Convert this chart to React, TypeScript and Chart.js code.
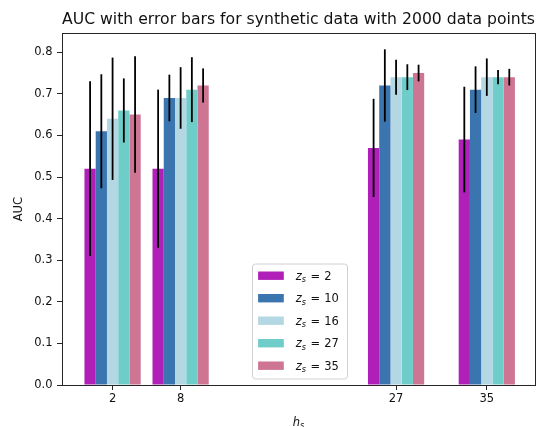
import React, { useEffect, useRef } from "react";
import { Chart, registerables } from "chart.js";

Chart.register(...registerables);

const TITLE = "AUC with error bars for synthetic data with 2000 data points";
const H_VALUES = [2, 8, 27, 35];
const Z_LABELS = ["2", "10", "16", "27", "35"];

const AUC_Z2 = [0.52, 0.52, 0.57, 0.59];
const AUC_Z10 = [0.61, 0.69, 0.72, 0.71];
const AUC_Z16 = [0.64, 0.69, 0.74, 0.74];
const AUC_Z27 = [0.66, 0.71, 0.74, 0.74];
const AUC_Z35 = [0.65, 0.72, 0.75, 0.74];

const ERR_Z2 = [0.21, 0.19, 0.118, 0.127];
const ERR_Z10 = [0.137, 0.056, 0.087, 0.056];
const ERR_Z16 = [0.147, 0.074, 0.042, 0.045];
const ERR_Z27 = [0.077, 0.078, 0.031, 0.017];
const ERR_Z35 = [0.14, 0.041, 0.02, 0.02];

const Y_TICKS = [0, 0.1, 0.2, 0.3, 0.4, 0.5, 0.6, 0.7, 0.8];

const COLORS = ["#b020b8", "#3a75af", "#b4d7e4", "#6fcdc9", "#cd7592"];

const FONT = '"DejaVu Sans", sans-serif';

const errorBarPlugin = {
  id: "errorBars",
  afterDatasetsDraw(chart: any) {
    const ctx = chart.ctx;
    const yScale = chart.scales.y;
    ctx.save();
    ctx.strokeStyle = "#000";
    ctx.lineWidth = 1.8;
    chart.data.datasets.forEach((ds: any, i: number) => {
      const meta = chart.getDatasetMeta(i);
      meta.data.forEach((el: any, j: number) => {
        const v = ds.data[j].y;
        const e = ds.errors[j];
        const y1 = yScale.getPixelForValue(v + e);
        const y2 = yScale.getPixelForValue(v - e);
        ctx.beginPath();
        ctx.moveTo(el.x, y1);
        ctx.lineTo(el.x, y2);
        ctx.stroke();
      });
    });
    ctx.restore();
  },
};

const framePlugin = {
  id: "frame",
  afterDraw(chart: any) {
    const { ctx, chartArea } = chart;
    ctx.save();
    ctx.strokeStyle = "#262626";
    ctx.lineWidth = 1;
    ctx.strokeRect(
      Math.round(chartArea.left) + 0.5,
      Math.round(chartArea.top) + 0.5,
      Math.round(chartArea.right - chartArea.left),
      Math.round(chartArea.bottom - chartArea.top)
    );
    ctx.restore();
  },
};

function drawSubLabel(ctx: any, main: string, sub: string, rest: string, x: number, baseline: number, size: number) {
  ctx.font = `italic ${size}px ${FONT}`;
  ctx.textAlign = "left";
  ctx.textBaseline = "alphabetic";
  ctx.fillText(main, x, baseline);
  let cx = x + ctx.measureText(main).width;
  const subSize = size * 0.7;
  ctx.font = `italic ${subSize}px ${FONT}`;
  ctx.fillText(sub, cx, baseline + size * 0.2);
  cx += ctx.measureText(sub).width;
  if (rest) {
    ctx.font = `${size}px ${FONT}`;
    cx += size * 0.38;
    ctx.fillText("=", cx, baseline);
    cx += ctx.measureText("=").width + size * 0.36;
    ctx.fillText(rest, cx, baseline);
  }
}

const annotationPlugin = {
  id: "annotations",
  afterDraw(chart: any) {
    const { ctx, chartArea } = chart;
    const cxMid = (chartArea.left + chartArea.right) / 2;
    ctx.save();
    ctx.fillStyle = "#111";

    // x-axis label h_s
    const size = 11.5;
    ctx.font = `italic ${size}px ${FONT}`;
    const wh = ctx.measureText("h").width;
    ctx.font = `italic ${size * 0.7}px ${FONT}`;
    const ws = ctx.measureText("s").width;
    drawSubLabel(ctx, "h", "s", "", cxMid - (wh + ws) / 2, 425.5, size);

    // legend
    const boxW = 95;
    const boxH = 115;
    const boxL = cxMid - boxW / 2 + 1.5;
    const boxB = chartArea.bottom - 6;
    const boxT = boxB - boxH;
    ctx.beginPath();
    const r = 3;
    ctx.moveTo(boxL + r, boxT);
    ctx.lineTo(boxL + boxW - r, boxT);
    ctx.arcTo(boxL + boxW, boxT, boxL + boxW, boxT + r, r);
    ctx.lineTo(boxL + boxW, boxB - r);
    ctx.arcTo(boxL + boxW, boxB, boxL + boxW - r, boxB, r);
    ctx.lineTo(boxL + r, boxB);
    ctx.arcTo(boxL, boxB, boxL, boxB - r, r);
    ctx.lineTo(boxL, boxT + r);
    ctx.arcTo(boxL, boxT, boxL + r, boxT, r);
    ctx.closePath();
    ctx.fillStyle = "rgba(255,255,255,0.8)";
    ctx.fill();
    ctx.strokeStyle = "#d0d0d0";
    ctx.lineWidth = 1;
    ctx.stroke();

    Z_LABELS.forEach((lab, i) => {
      const rowC = boxT + 11.7 + i * 22.5;
      ctx.fillStyle = COLORS[i];
      ctx.fillRect(boxL + 5.6, rowC - 4.2, 25.7, 8.4);
      ctx.fillStyle = "#111";
      drawSubLabel(ctx, "z", "s", lab, boxL + 43.3, rowC + 4.2, 11.5);
    });
    ctx.restore();
  },
};

export default function App() {
  const canvasRef = useRef<HTMLCanvasElement | null>(null);

  useEffect(() => {
    if (!canvasRef.current) return;
    const aucs = [AUC_Z2, AUC_Z10, AUC_Z16, AUC_Z27, AUC_Z35];
    const errs = [ERR_Z2, ERR_Z10, ERR_Z16, ERR_Z27, ERR_Z35];
    const datasets = Z_LABELS.map((lab, i) => ({
      label: `z_s = ${lab}`,
      data: H_VALUES.map((h, j) => ({ x: h, y: aucs[i][j] })),
      errors: errs[i],
      backgroundColor: COLORS[i],
      borderWidth: 0,
      categoryPercentage: 0.8264,
      barPercentage: 1,
    }));

    const chart = new Chart(canvasRef.current, {
      type: "bar",
      data: { datasets } as any,
      options: {
        animation: false,
        responsive: false,
        devicePixelRatio: 1,
        layout: { padding: { left: 0, right: 7, top: 0, bottom: 0 } },
        plugins: {
          legend: { display: false },
          tooltip: { enabled: false },
          title: {
            display: true,
            text: TITLE,
            fullSize: false,
            color: "#111",
            font: { family: FONT, size: 16, weight: "normal" },
            padding: { top: 10, bottom: 4 },
          },
        },
        scales: {
          x: {
            type: "linear",
            min: -2.46,
            max: 39.25,
            offset: false,
            afterBuildTicks: (scale: any) => {
              scale.ticks = H_VALUES.map((v) => ({ value: v }));
            },
            afterFit: (scale: any) => {
              scale.height = 42;
            },
            ticks: {
              color: "#111",
              font: { family: FONT, size: 11.5 },
              padding: 2,
              maxRotation: 0,
              autoSkip: false,
              callback: (v: any) => String(v),
            },
            grid: {
              display: true,
              drawOnChartArea: false,
              drawTicks: true,
              tickLength: 5,
              color: "#262626",
              offset: false,
            },
            border: { display: true, color: "#262626", width: 1 },
          },
          y: {
            type: "linear",
            min: 0,
            max: 0.8457,
            afterBuildTicks: (scale: any) => {
              scale.ticks = Y_TICKS.map((v) => ({ value: v }));
            },
            afterFit: (scale: any) => {
              scale.width = 62;
            },
            ticks: {
              color: "#111",
              font: { family: FONT, size: 11.5 },
              padding: 4.5,
              callback: (v: any) => Number(v).toFixed(1),
            },
            grid: {
              display: true,
              drawOnChartArea: false,
              drawTicks: true,
              tickLength: 5,
              color: "#262626",
            },
            border: { display: true, color: "#262626", width: 1 },
            title: {
              display: true,
              text: "AUC",
              color: "#111",
              font: { family: FONT, size: 11.5 },
              padding: { top: 12, bottom: 0 },
            },
          },
        },
      } as any,
      plugins: [errorBarPlugin, framePlugin, annotationPlugin],
    });
    return () => chart.destroy();
  }, []);

  return (
    <div style={{ position: "absolute", left: 0, top: 0, width: 542, height: 427, background: "#fff" }}>
      <canvas ref={canvasRef} width={542} height={427} />
    </div>
  );
}
